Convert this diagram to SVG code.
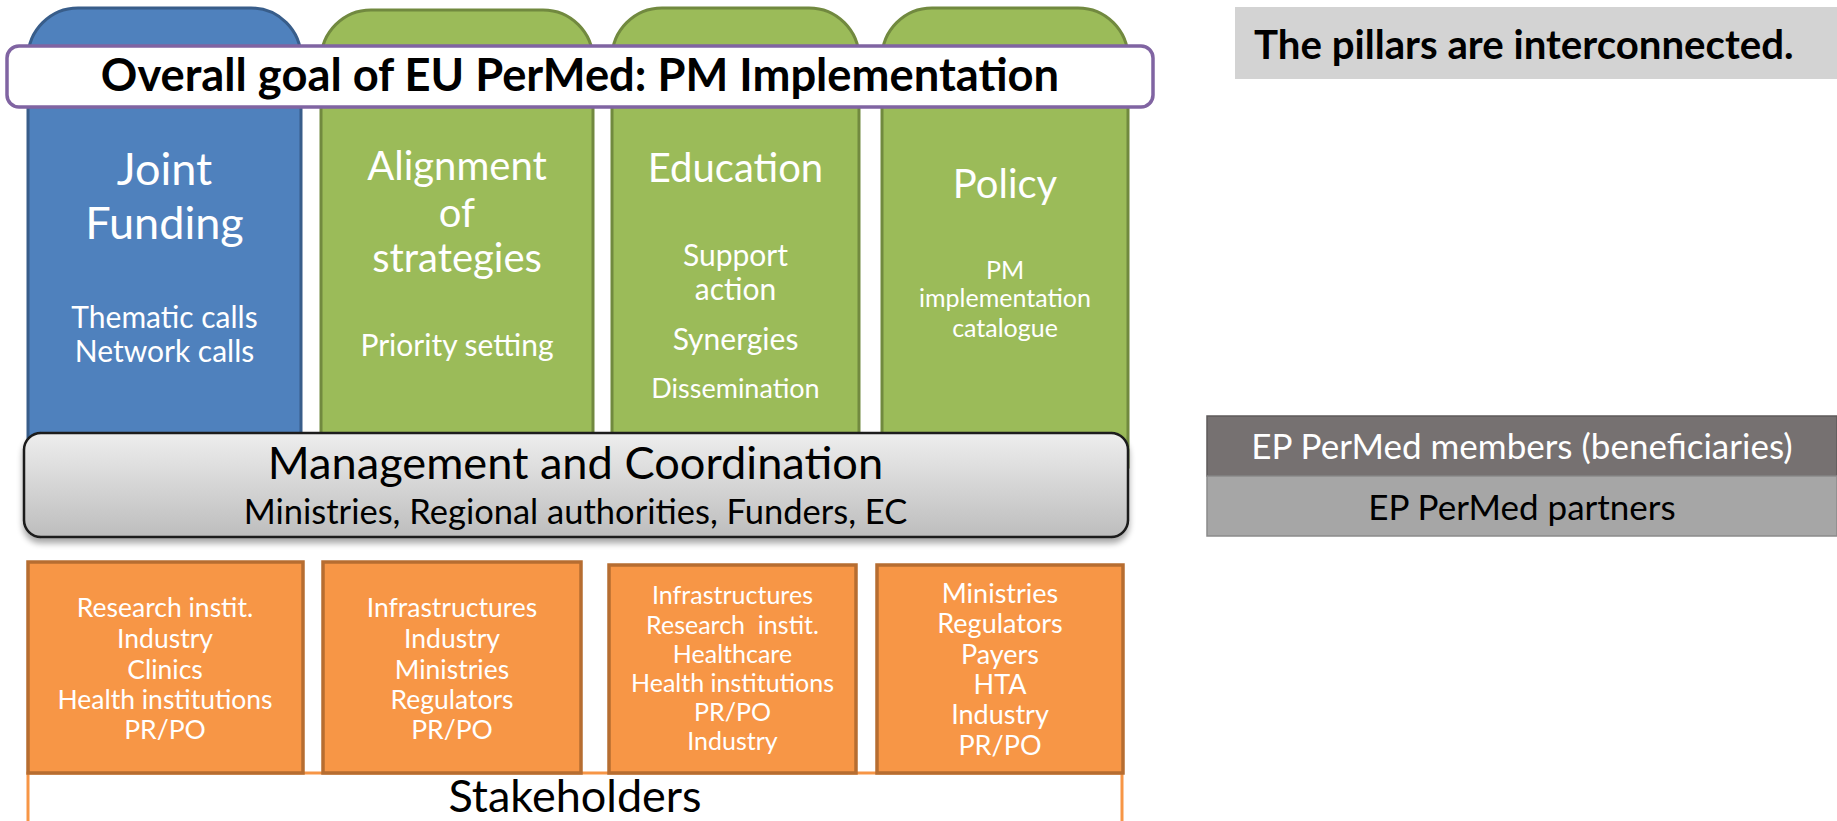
<svg xmlns="http://www.w3.org/2000/svg" width="1837" height="821" viewBox="0 0 1837 821">
<style>
text{font-family:Lato,"Liberation Sans",sans-serif;text-anchor:middle}
.w{fill:#ffffff}
.k{fill:#000000}
.h1{font-size:40px}
.h2{font-size:30px}
.h3{font-size:25px}
.o{font-size:26.5px}
.o3{font-size:25px}
.o4{font-size:27px}
.blue{fill:#4f81bd;stroke:#385d8a;stroke-width:3}
.green{fill:#9bbb59;stroke:#71893f;stroke-width:3}
.orange{fill:#f79646;stroke:#b66d31;stroke-width:3.5}
</style>
<defs>
<linearGradient id="mg" x1="0" y1="0" x2="0" y2="1">
<stop offset="0" stop-color="#eeeeee"/>
<stop offset="1" stop-color="#bdbdbd"/>
</linearGradient>
<filter id="sh" x="-5%" y="-20%" width="110%" height="150%">
<feGaussianBlur in="SourceAlpha" stdDeviation="3"/>
<feOffset dx="0" dy="5" result="b"/>
<feComponentTransfer><feFuncA type="linear" slope="0.35"/></feComponentTransfer>
<feMerge><feMergeNode/><feMergeNode in="SourceGraphic"/></feMerge>
</filter>
</defs>
<rect width="1837" height="821" fill="#ffffff"/>

<g id="pillar-joint-funding">
<path class="blue" d="M28,467 V58 A50,50 0 0 1 78,8 H251 A50,50 0 0 1 301,58 V467 Z"/>
<text class="w" x="164.5" y="185" style="font-size:45px">Joint</text>
<text class="w" x="164.5" y="239" style="font-size:45px">Funding</text>
<text class="w h2" x="164.5" y="328">Thematic calls</text>
<text class="w h2" x="164.5" y="362">Network calls</text>
</g>
<g id="pillar-alignment">
<path class="green" d="M321,467 V60 A50,50 0 0 1 371,10 H543 A50,50 0 0 1 593,60 V467 Z"/>
<text class="w h1" x="457" y="180">Alignment</text>
<text class="w h1" x="457" y="227">of</text>
<text class="w h1" x="457" y="272">strategies</text>
<text class="w h2" x="457" y="356">Priority setting</text>
</g>
<g id="pillar-education">
<path class="green" d="M612,467 V58 A50,50 0 0 1 662,8 H809 A50,50 0 0 1 859,58 V467 Z"/>
<text class="w h1" x="735.5" y="182">Education</text>
<text class="w h2" x="735.5" y="266">Support</text>
<text class="w h2" x="735.5" y="300">action</text>
<text class="w h2" x="735.5" y="350">Synergies</text>
<text class="w" x="735.5" y="398" style="font-size:27px">Dissemination</text>
</g>
<g id="pillar-policy">
<path class="green" d="M882,467 V58 A50,50 0 0 1 932,8 H1078 A50,50 0 0 1 1128,58 V467 Z"/>
<text class="w h1" x="1005" y="198">Policy</text>
<text class="w h3" x="1005" y="279">PM</text>
<text class="w h3" x="1005" y="307">implementation</text>
<text class="w h3" x="1005" y="337">catalogue</text>
</g>

<g id="goal">
<rect x="7" y="46" width="1146" height="61" rx="12" fill="#ffffff" stroke="#8064a2" stroke-width="3.5"/>
<text class="k" x="580" y="91" style="font-size:45.3px;font-weight:bold">Overall goal of EU PerMed: PM Implementation</text>
</g>

<g id="management">
<rect x="24" y="433" width="1104" height="104" rx="17" fill="url(#mg)" stroke="#1a1a1a" stroke-width="2.5" filter="url(#sh)"/>
<text class="k" x="575.5" y="479" style="font-size:45.2px">Management and Coordination</text>
<text class="k" x="575.5" y="524" style="font-size:34.5px">Ministries, Regional authorities, Funders, EC</text>
</g>

<g id="stakeholders">
<path d="M28,830 V773 H1122 V830" fill="none" stroke="#f79646" stroke-width="3"/>
<text class="k" x="575" y="812" style="font-size:45px">Stakeholders</text>
</g>

<g id="stakeholders-1">
<rect class="orange" x="28" y="562" width="275" height="211"/>
<text class="w o" x="165" y="617">Research instit.</text>
<text class="w o" x="165" y="648">Industry</text>
<text class="w o" x="165" y="679">Clinics</text>
<text class="w o" x="165" y="709">Health institutions</text>
<text class="w o" x="165" y="739">PR/PO</text>
</g>
<g id="stakeholders-2">
<rect class="orange" x="323" y="562" width="258" height="211"/>
<text class="w o" x="452" y="617">Infrastructures</text>
<text class="w o" x="452" y="648">Industry</text>
<text class="w o" x="452" y="679">Ministries</text>
<text class="w o" x="452" y="709">Regulators</text>
<text class="w o" x="452" y="739">PR/PO</text>
</g>
<g id="stakeholders-3">
<rect class="orange" x="609" y="565" width="247" height="208"/>
<text class="w o3" x="732.5" y="604">Infrastructures</text>
<text class="w o3" x="732.5" y="634" xml:space="preserve">Research  instit.</text>
<text class="w o3" x="732.5" y="663">Healthcare</text>
<text class="w o3" x="732.5" y="692">Health institutions</text>
<text class="w o3" x="732.5" y="721">PR/PO</text>
<text class="w o3" x="732.5" y="750">Industry</text>
</g>
<g id="stakeholders-4">
<rect class="orange" x="877" y="565" width="246" height="208"/>
<text class="w o4" x="1000" y="603">Ministries</text>
<text class="w o4" x="1000" y="633">Regulators</text>
<text class="w o4" x="1000" y="664">Payers</text>
<text class="w o4" x="1000" y="694">HTA</text>
<text class="w o4" x="1000" y="724">Industry</text>
<text class="w o4" x="1000" y="755">PR/PO</text>
</g>

<g id="note">
<rect x="1235" y="7" width="602" height="72" fill="#d3d3d3"/>
<text class="k" x="1254" y="59" style="font-size:40.2px;font-weight:bold;text-anchor:start">The pillars are interconnected.</text>
</g>

<g id="legend-members">
<rect x="1207" y="416" width="630" height="60" fill="#767171" stroke="#5e5a5a" stroke-width="1.5"/>
<text class="w" x="1522" y="459" style="font-size:35px">EP PerMed members (beneficiaries)</text>
</g>
<g id="legend-partners">
<rect x="1207" y="476" width="630" height="60" fill="#a6a6a6" stroke="#8a8a8a" stroke-width="1.5"/>
<text class="k" x="1522" y="520" style="font-size:35px">EP PerMed partners</text>
</g>

<g id="connectors"></g>
</svg>
